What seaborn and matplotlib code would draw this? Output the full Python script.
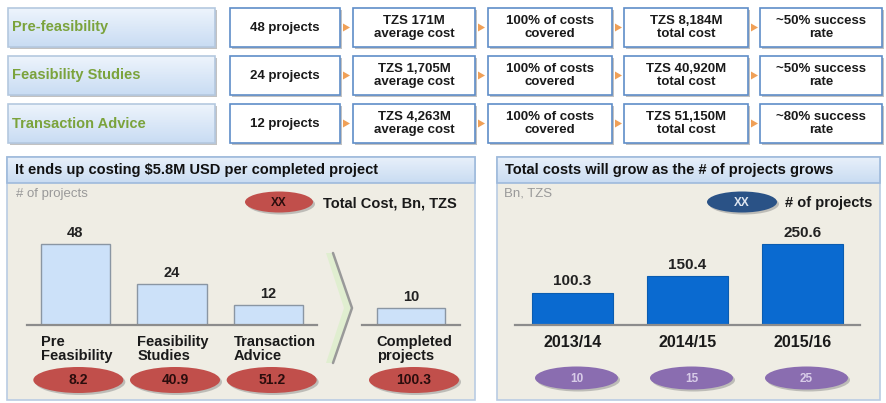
import numpy as np
import matplotlib
matplotlib.use("Agg")
import matplotlib.pyplot as plt
from matplotlib.patches import Rectangle, Ellipse, Polygon
from matplotlib.colors import LinearSegmentedColormap
import seaborn as sns

# Data
stages = ["Pre-feasibility", "Feasibility Studies", "Transaction Advice"]
n_projects = ["48 projects", "24 projects", "12 projects"]
avg_cost = ["TZS 171M\naverage cost", "TZS 1,705M\naverage cost", "TZS 4,263M\naverage cost"]
coverage = ["100% of costs\ncovered", "100% of costs\ncovered", "100% of costs\ncovered"]
total_cost = ["TZS 8,184M\ntotal cost", "TZS 40,920M\ntotal cost", "TZS 51,150M\ntotal cost"]
success = ["~50% success\nrate", "~50% success\nrate", "~80% success\nrate"]

pipeline_labels = ["Pre\nFeasibility", "Feasibility\nStudies", "Transaction\nAdvice"]
pipeline_counts = [48, 24, 12]
pipeline_cost_bn = [8.2, 40.9, 51.2]
completed_label = ["Completed\nprojects"]
completed_count = [10]
completed_cost_bn = [100.3]

years = ["2013/14", "2014/15", "2015/16"]
year_cost_bn = [100.3, 150.4, 250.6]
year_projects = [10, 15, 25]

# Setting
sns.set_theme(style="white")
plt.rcParams["font.family"] = ["Liberation Sans", "DejaVu Sans"]

W, H = 886, 403
fig = plt.figure(figsize=(W / 100, H / 100), dpi=100)
fig.patch.set_facecolor("white")

# background axes in pixel coordinates
bg = fig.add_axes([0, 0, 1, 1])
bg.set_xlim(0, W)
bg.set_ylim(H, 0)
bg.axis("off")


def px_axes(x0, y0, x1, y1):
    ax = fig.add_axes([x0 / W, 1 - y1 / H, (x1 - x0) / W, (y1 - y0) / H])
    ax.patch.set_alpha(0)
    return ax


def gradient_box(x0, y0, x1, y1, c_top, c_bot, edge, z=2, shadow=True):
    if shadow:
        bg.add_patch(Rectangle((x0 + 2, y0 + 2), x1 - x0, y1 - y0,
                               facecolor="#9a9a9a", edgecolor="none", alpha=0.6, zorder=z - 1))
    cmap = LinearSegmentedColormap.from_list("g", [c_top, c_bot])
    bg.imshow(np.linspace(0, 1, 60).reshape(-1, 1), cmap=cmap, aspect="auto",
              extent=(x0, x1, y1, y0), zorder=z, interpolation="bilinear")
    bg.add_patch(Rectangle((x0, y0), x1 - x0, y1 - y0, facecolor="none",
                           edgecolor=edge, linewidth=1.2, zorder=z + 0.5))


# 1. Top pipeline rows
rows = [(8, 47), (56, 95), (104, 143)]
cols = [(230, 340), (353, 475), (488, 612), (624, 748), (760, 882)]
for r, (y0, y1) in enumerate(rows):
    yc = (y0 + y1) / 2
    gradient_box(8, y0, 215, y1, "#EEF4FC", "#C8DCF3", "#B4C8DF")
    bg.text(12, yc, stages[r], ha="left", va="center", fontsize=10.5,
            fontweight="bold", color="#7BA33C", zorder=5)
    cells = [n_projects[r], avg_cost[r], coverage[r], total_cost[r], success[r]]
    for c, (x0, x1) in enumerate(cols):
        gradient_box(x0, y0, x1, y1, "white", "white", "#5F8DC8")
        bg.text((x0 + x1) / 2, yc, cells[c], ha="center", va="center",
                fontsize=9.5, fontweight="bold", color="#1a1a1a",
                linespacing=1.1, zorder=5)
        if c < len(cols) - 1:
            gx = x1 + 3
            bg.add_patch(Polygon([(gx, yc - 4), (gx + 7, yc), (gx, yc + 4)],
                                 closed=True, facecolor="#F0A057",
                                 edgecolor="none", zorder=5))

# 2. Panels
panel_bg = "#EFEDE4"
for x0, x1, title in [(7, 475, "It ends up costing $5.8M USD per completed project"),
                      (497, 880, "Total costs will grow as the # of projects grows")]:
    bg.add_patch(Rectangle((x0, 157), x1 - x0, 243, facecolor=panel_bg,
                           edgecolor="#B9CCE3", linewidth=1.2, zorder=1))
    gradient_box(x0, 157, x1, 183, "#E8F0FA", "#C9DCF2", "#9EBADC", z=2, shadow=False)
    bg.text(x0 + 8, 170, title, ha="left", va="center", fontsize=10.5,
            fontweight="bold", color="#111111", zorder=5)

bg.text(16, 194, "# of projects", fontsize=9.5, color="#999999", va="center", zorder=5)
bg.text(504, 193, "Bn, TZS", fontsize=9.5, color="#999999", va="center", zorder=5)


def oval(cx, cy, w, h, color, label, tcolor, fs=10):
    bg.add_patch(Ellipse((cx + 2, cy + 2), w, h, facecolor="#8c8c8c",
                         edgecolor="none", alpha=0.5, zorder=4))
    bg.add_patch(Ellipse((cx, cy), w, h, facecolor=color, edgecolor="none", zorder=5))
    bg.text(cx, cy + 0.5, label, ha="center", va="center", fontsize=fs,
            fontweight="bold", color=tcolor, zorder=6)


# legends
oval(279, 202, 68, 21, "#C14F4B", "XX", "#2a0d0d", fs=8.5)
bg.text(323, 203, "Total Cost, Bn, TZS", fontsize=10.5, fontweight="bold",
        color="#1a1a1a", va="center", zorder=5)
oval(742, 202, 70, 21, "#2A5286", "XX", "#dfe6f0", fs=8.5)
bg.text(785, 203, "# of projects", fontsize=10.5, fontweight="bold",
        color="#1a1a1a", va="center", zorder=5)

# chevron
bg.add_patch(Polygon([(326, 253), (333, 253), (352, 308), (333, 363), (326, 363), (344, 308)],
                     closed=True, facecolor="#DDEFCB", edgecolor="none", alpha=0.8, zorder=2))
bg.plot([333, 352, 333], [253, 308, 363], color="#999999", lw=1.8, zorder=3)


def bg_x(ax, xval):
    disp = ax.transData.transform((xval, 0))
    return bg.transData.inverted().transform(disp)[0]


def style_bar_axes(ax, top):
    ax.set_ylim(0, top)
    for s in ["top", "right", "left"]:
        ax.spines[s].set_visible(False)
    ax.spines["bottom"].set_color("#8c8c8c")
    ax.spines["bottom"].set_linewidth(1.6)
    ax.set_yticks([])
    ax.set_xlabel("")
    ax.set_ylabel("")


# 3. Left panel bars (# of projects)
px_per_proj = 1.69
ax1 = px_axes(27, 230, 317, 325)
sns.barplot(x=pipeline_labels, y=pipeline_counts, ax=ax1, color="#CCE1F9",
            edgecolor="#8A96A3", linewidth=1, width=0.72, saturation=1)
style_bar_axes(ax1, 95 / px_per_proj)
ax1.set_xticks([])
ax1.bar_label(ax1.containers[0], padding=3, fontsize=10.5, fontweight="bold", color="#222222")

ax2 = px_axes(362, 230, 460, 325)
sns.barplot(x=completed_label, y=completed_count, ax=ax2, color="#CCE1F9",
            edgecolor="#8A96A3", linewidth=1, width=0.70, saturation=1)
style_bar_axes(ax2, 95 / px_per_proj)
ax2.set_xticks([])
ax2.bar_label(ax2.containers[0], padding=3, fontsize=10.5, fontweight="bold", color="#222222")

for ax, labels, costs, bw in [(ax1, pipeline_labels, pipeline_cost_bn, 0.72),
                              (ax2, completed_label, completed_cost_bn, 0.70)]:
    for i, lab in enumerate(labels):
        ax.annotate(lab, xy=(i - bw / 2, 0), xycoords=("data", "axes fraction"),
                    xytext=(0, -7), textcoords="offset points", ha="left", va="top",
                    fontsize=10.5, fontweight="bold", color="#1a1a1a", linespacing=1.0)
        oval(bg_x(ax, i) + 3, 380, 90, 26, "#C14F4B", f"{costs[i]:.1f}", "#2a0d0d")

# 4. Right panel bars (total cost per year)
px_per_bn = 0.323
ax3 = px_axes(515, 225, 860, 325)
sns.barplot(x=years, y=year_cost_bn, ax=ax3, color="#0A6AD0",
            edgecolor="#0A5CB0", linewidth=0.8, width=0.71, saturation=1)
style_bar_axes(ax3, 100 / px_per_bn)
ax3.tick_params(axis="x", length=0, pad=7, labelsize=11.5)
for lab in ax3.get_xticklabels():
    lab.set_fontweight("bold")
    lab.set_color("#1a1a1a")
ax3.bar_label(ax3.containers[0], fmt="%.1f", padding=3, fontsize=11,
              fontweight="bold", color="#222222")
for i, n in enumerate(year_projects):
    oval(bg_x(ax3, i) + 4, 378, 83, 23, "#8A6DB0", str(n), "#D8CCE8", fs=8.5)

fig.savefig("out.png", dpi=100, facecolor="white")
